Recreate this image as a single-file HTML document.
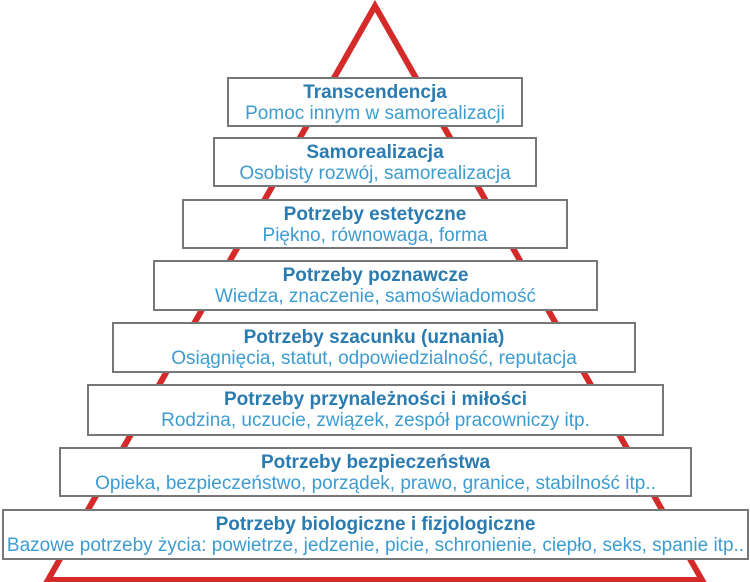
<!DOCTYPE html>
<html><head><meta charset="utf-8"><style>
html,body{margin:0;padding:0;background:#fff;}
#c{position:relative;width:750px;height:582px;overflow:hidden;font-family:"Liberation Sans",sans-serif;}
.b{position:absolute;background:#fff;border:2px solid #777;box-sizing:border-box;text-align:center;white-space:nowrap;}
.t{color:#2a7bb0;font-weight:bold;font-size:19px;line-height:21px;margin-top:3px;}
.s{color:#3d9ccf;font-size:19px;line-height:21px;}
</style></head><body><div id="c">
<svg width="750" height="582" style="position:absolute;left:0;top:0">
<polygon points="375,6 48,580 702,580" fill="none" stroke="#d42a2a" stroke-width="6" stroke-linejoin="miter"/>
</svg>
<div class="b" style="left:227px;top:77px;width:296px;height:50px"><div class="t">Transcendencja</div><div class="s">Pomoc innym w samorealizacji</div></div>
<div class="b" style="left:213px;top:137px;width:324px;height:50px"><div class="t">Samorealizacja</div><div class="s">Osobisty rozwój, samorealizacja</div></div>
<div class="b" style="left:182px;top:199px;width:386px;height:50px"><div class="t">Potrzeby estetyczne</div><div class="s">Piękno, równowaga, forma</div></div>
<div class="b" style="left:153px;top:260px;width:445px;height:51px"><div class="t">Potrzeby poznawcze</div><div class="s">Wiedza, znaczenie, samoświadomość</div></div>
<div class="b" style="left:112px;top:322px;width:524px;height:51px"><div class="t">Potrzeby szacunku (uznania)</div><div class="s">Osiągnięcia, statut, odpowiedzialność, reputacja</div></div>
<div class="b" style="left:87px;top:384px;width:577px;height:52px"><div class="t">Potrzeby przynależności i miłości</div><div class="s">Rodzina, uczucie, związek, zespół pracowniczy itp.</div></div>
<div class="b" style="left:59px;top:447px;width:633px;height:50px"><div class="t">Potrzeby bezpieczeństwa</div><div class="s">Opieka, bezpieczeństwo, porządek, prawo, granice, stabilność itp..</div></div>
<div class="b" style="left:2px;top:509px;width:747px;height:51px"><div class="t">Potrzeby biologiczne i fizjologiczne</div><div class="s">Bazowe potrzeby życia: powietrze, jedzenie, picie, schronienie, ciepło, seks, spanie itp..</div></div>
</div></body></html>
